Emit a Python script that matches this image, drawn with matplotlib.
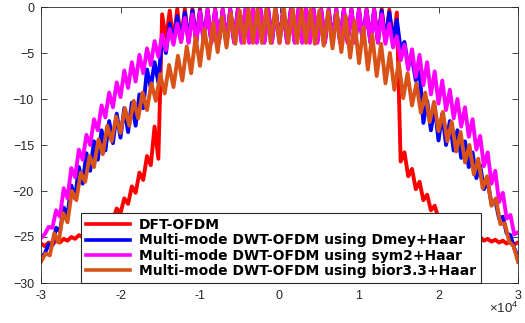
import numpy as np
import matplotlib
matplotlib.use("Agg")
import matplotlib.pyplot as plt

plt.rcParams["font.family"] = ["Liberation Sans", "DejaVu Sans"]
plt.rcParams["mathtext.default"] = "regular"

# frequency axis (Hz); first three curves share one ripple grid, bior3.3 has a wider ripple
freq = np.linspace(-3e4, 3e4, 127)
freq_bior = np.linspace(-3e4, 3e4, 109)

# DFT-OFDM: ripple peaks and troughs (dB)
dft_peaks = [-25.7, -25.6, -25.4, -25.2, -25.0, -24.8, -24.4, -24.0, -23.5, -22.8,
             -21.9, -20.8, -19.5, -18.0, -16.2, -13.0,
             -0.8, -0.4] + [-0.2] * 28 + [-0.3, -0.6,
             -15.8, -17.6, -19.0, -20.4, -21.6, -22.6, -23.4, -24.0, -24.4, -24.8,
             -25.0, -25.2, -25.3, -25.4, -25.5, -25.6]
dft_troughs = [-26.0, -25.8, -25.6, -25.4, -25.2, -25.0, -24.6, -24.2, -23.8, -23.2,
               -22.4, -21.4, -20.2, -18.8, -17.2, -16.5,
               -3.6] + [-3.8] * 29 + [-3.9,
               -16.8, -18.4, -19.8, -21.0, -22.1, -23.0, -23.8, -24.3, -24.7, -25.0,
               -25.2, -25.4, -25.5, -25.6, -25.7, -25.8]

# Multi-mode DWT-OFDM using Dmey+Haar
dmey_peaks = [-27.2, -25.8, -24.0, -21.8, -19.4, -17.4, -15.9, -14.6, -13.4, -12.4,
              -11.6, -11.0, -10.4, -9.5, -6.8, -6.0, -3.0, -1.8, -1.0, -0.6] + [-0.4] * 26 + [
              -0.6, -1.4, -3.8, -5.5, -7.0, -10.2, -10.8, -11.6, -12.4, -13.4,
              -14.6, -15.8, -17.2, -19.0, -21.0, -22.8, -24.8, -27.2]
dmey_troughs = [-26.8, -25.9, -24.4, -22.6, -20.8, -19.2, -17.8, -16.6, -15.6, -14.8,
                -14.2, -13.6, -12.9, -11.0, -8.8, -8.2, -5.0, -3.8, -3.6] + [-3.7] * 27 + [
                -3.6, -4.6, -6.4, -8.0, -12.6, -13.4, -14.5, -15.0, -15.6, -16.4,
                -17.4, -18.6, -19.8, -21.4, -23.0, -24.6, -26.2]

# Multi-mode DWT-OFDM using sym2+Haar
sym2_peaks = [-25.1, -23.9, -22.1, -19.7, -17.5, -15.5, -13.9, -12.2, -10.7, -9.3,
              -8.2, -6.9, -6.0, -5.2, -4.5, -3.7, -3.0, -2.4, -1.8, -1.2, -0.8, -0.5] + [-0.3] * 23 + [
              -0.8, -1.8, -3.2, -4.1, -4.6, -5.2, -6.0, -7.0, -8.0, -9.0,
              -10.0, -10.9, -12.2, -14.0, -15.8, -17.8, -20.2, -22.6, -24.5]
sym2_troughs = [-24.7, -24.0, -22.8, -20.8, -18.5, -16.6, -15.0, -13.4, -12.0, -10.9,
                -9.8, -8.8, -8.1, -7.2, -6.3, -5.4, -4.7, -4.1, -3.8] + [-3.9] * 26 + [
                -4.0, -4.4, -5.8, -6.8, -7.6, -8.5, -9.5, -10.5, -11.2, -12.1,
                -13.0, -14.1, -15.5, -17.3, -19.2, -21.2, -23.0, -24.7]

# Multi-mode DWT-OFDM using bior3.3+Haar
bior_peaks = [-26.8, -24.6, -22.4, -20.0, -18.0, -16.2, -14.4, -12.9, -11.9, -11.0,
              -10.2, -9.3, -8.3, -7.3, -6.3, -5.3, -4.3, -3.3, -2.4, -1.7,
              -1.1, -0.7, -0.4] + [-0.2] * 7 + [
              -0.3, -0.4, -0.5, -0.7, -1.0, -1.5, -2.2, -3.0, -4.0, -5.0,
              -6.0, -7.2, -8.3, -9.3, -10.3, -11.4, -12.5, -13.6, -15.0, -16.5,
              -18.4, -20.8, -23.5, -26.0]
bior_troughs = [-27.7, -27.0, -25.6, -23.4, -21.0, -19.0, -17.4, -16.0, -14.6, -13.7,
                -12.9, -12.1, -11.2, -10.2, -9.4, -8.7, -8.0, -7.2, -6.4, -5.6,
                -4.9, -4.4, -4.0] + [-3.9] * 7 + [
                -3.9, -4.0, -4.2, -4.5, -4.9, -5.5, -6.1, -6.8, -7.5, -8.3,
                -9.0, -9.9, -10.7, -11.5, -12.5, -13.5, -14.6, -15.7, -16.9, -18.2,
                -19.7, -21.6, -23.6, -25.5, -27.7]

labels = ["DFT-OFDM",
          "Multi-mode DWT-OFDM using Dmey+Haar",
          "Multi-mode DWT-OFDM using sym2+Haar",
          "Multi-mode DWT-OFDM using bior3.3+Haar"]
colors = ["#FF0000", "#0000FF", "#FF00FF", "#D95319"]


def ripple(peaks, troughs, peak_first=True):
    y = np.empty(len(peaks) + len(troughs))
    if peak_first:
        y[0::2] = peaks
        y[1::2] = troughs
    else:
        y[0::2] = troughs
        y[1::2] = peaks
    return y


curves = [(freq, ripple(dft_peaks, dft_troughs)),
          (freq, ripple(dmey_peaks, dmey_troughs)),
          (freq, ripple(sym2_peaks, sym2_troughs)),
          (freq_bior, ripple(bior_peaks, bior_troughs, peak_first=False))]

fig = plt.figure(figsize=(5.25, 3.23), dpi=100)
ax = fig.add_axes([41 / 525, 1 - 283 / 323, 477 / 525, 276 / 323])

for (x, y), lab, c in zip(curves, labels, colors):
    ax.plot(x, y, color=c, lw=2.8, label=lab, solid_joinstyle="round")

ax.set_xlim(-3e4, 3e4)
ax.set_ylim(-30, 0)
ax.set_xticks(np.arange(-3, 4) * 1e4)
ax.set_xticklabels([str(v) for v in range(-3, 4)])
ax.set_yticks(np.arange(-30, 1, 5))
ax.tick_params(direction="in", length=4, width=0.6, top=True, right=True,
               labelsize=9, colors="#262626", pad=5)
for s in ax.spines.values():
    s.set_color("#262626")
    s.set_linewidth(0.6)

ax.text(1.0, -0.066, r"$\times10^{4}$", transform=ax.transAxes, ha="right", va="top",
        fontsize=9.5, color="#262626")

leg = ax.legend(loc="lower left", bbox_to_anchor=(0.084, 0.0), borderaxespad=0,
                prop={"family": "DejaVu Sans", "weight": "bold", "size": 10},
                fancybox=False, edgecolor="#262626", framealpha=1, handlelength=3.2,
                handletextpad=0.6, labelspacing=0.1, borderpad=0.35)
leg.get_frame().set_linewidth(0.8)
for h in leg.get_lines():
    h.set_linewidth(2.6)

fig.savefig("out.png", dpi=100)
